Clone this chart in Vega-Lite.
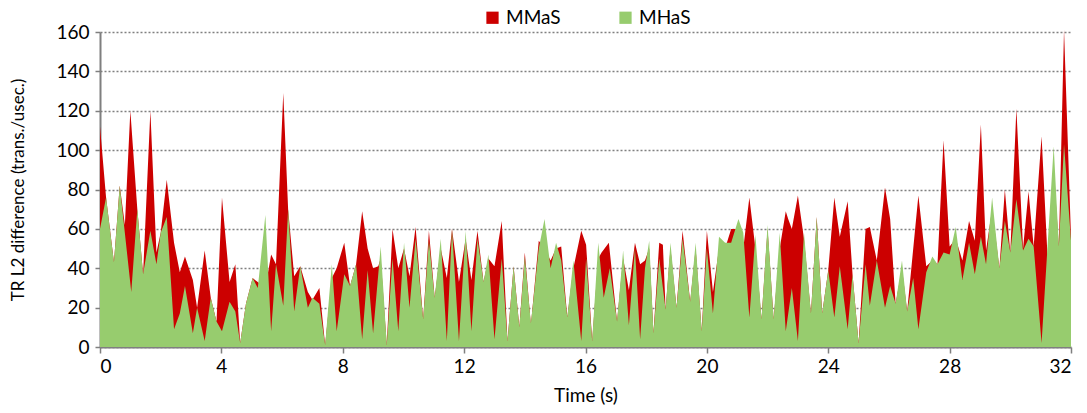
{
  "$schema": "https://vega.github.io/schema/vega-lite/v6.json",
  "width": 971,
  "height": 315,
  "autosize": {"type": "none"},
  "padding": {"left": 100, "top": 32, "right": 16, "bottom": 66},
  "background": "white",
  "config": {
    "font": "Lato",
    "view": {"stroke": null},
    "axis": {"labelFont": "Lato", "titleFont": "Lato", "labelColor": "#000", "titleColor": "#000", "titleFontWeight": "normal"}
  },
  "datasets": {
    "mmas": [
      {"t":0.0,"v":112},{"t":0.2,"v":76},{"t":0.46,"v":43},{"t":0.65,"v":82},{"t":0.82,"v":62},{"t":1.0,"v":120},{"t":1.23,"v":70},{"t":1.42,"v":37},{"t":1.66,"v":120},{"t":1.86,"v":48},{"t":2.0,"v":58},{"t":2.2,"v":85},{"t":2.44,"v":53},{"t":2.63,"v":38},{"t":2.8,"v":46},{"t":3.06,"v":34},{"t":3.2,"v":20},{"t":3.45,"v":49},{"t":3.65,"v":25},{"t":3.84,"v":13},{"t":4.02,"v":76},{"t":4.27,"v":33},{"t":4.46,"v":42},{"t":4.62,"v":2},{"t":4.81,"v":22},{"t":5.03,"v":35},{"t":5.2,"v":33},{"t":5.45,"v":30},{"t":5.64,"v":47},{"t":5.8,"v":42},{"t":6.04,"v":129},{"t":6.2,"v":70},{"t":6.4,"v":36},{"t":6.6,"v":41},{"t":6.85,"v":28},{"t":7.0,"v":24},{"t":7.23,"v":30},{"t":7.42,"v":1},{"t":7.64,"v":35},{"t":7.8,"v":40},{"t":8.05,"v":53},{"t":8.24,"v":31},{"t":8.44,"v":42},{"t":8.64,"v":69},{"t":8.82,"v":50},{"t":9.0,"v":40},{"t":9.17,"v":41},{"t":9.25,"v":45},{"t":9.45,"v":1},{"t":9.64,"v":60},{"t":9.83,"v":40},{"t":10.02,"v":50},{"t":10.2,"v":36},{"t":10.4,"v":61},{"t":10.65,"v":14},{"t":10.84,"v":59},{"t":11.03,"v":25},{"t":11.23,"v":50},{"t":11.43,"v":35},{"t":11.6,"v":60},{"t":11.83,"v":33},{"t":12.05,"v":55},{"t":12.24,"v":34},{"t":12.44,"v":59},{"t":12.64,"v":33},{"t":12.8,"v":45},{"t":13.0,"v":41},{"t":13.24,"v":64},{"t":13.43,"v":3},{"t":13.63,"v":41},{"t":13.82,"v":10},{"t":14.0,"v":48},{"t":14.2,"v":11},{"t":14.46,"v":54},{"t":14.65,"v":50},{"t":14.85,"v":44},{"t":15.03,"v":50},{"t":15.2,"v":51},{"t":15.4,"v":15},{"t":15.6,"v":40},{"t":15.86,"v":59},{"t":16.02,"v":52},{"t":16.22,"v":3},{"t":16.42,"v":45},{"t":16.53,"v":48},{"t":16.77,"v":53},{"t":17.04,"v":13},{"t":17.24,"v":45},{"t":17.43,"v":29},{"t":17.63,"v":53},{"t":17.8,"v":42},{"t":17.96,"v":44},{"t":18.1,"v":50},{"t":18.24,"v":7},{"t":18.43,"v":53},{"t":18.55,"v":52},{"t":18.64,"v":19},{"t":18.8,"v":50},{"t":19.0,"v":20},{"t":19.2,"v":59},{"t":19.45,"v":23},{"t":19.63,"v":50},{"t":19.83,"v":8},{"t":20.0,"v":59},{"t":20.2,"v":28},{"t":20.4,"v":50},{"t":20.6,"v":50},{"t":20.8,"v":60},{"t":21.04,"v":60},{"t":21.2,"v":50},{"t":21.4,"v":76},{"t":21.6,"v":50},{"t":21.8,"v":14},{"t":22.0,"v":60},{"t":22.2,"v":14},{"t":22.4,"v":50},{"t":22.6,"v":69},{"t":22.68,"v":65},{"t":22.8,"v":60},{"t":23.0,"v":77},{"t":23.2,"v":55},{"t":23.43,"v":17},{"t":23.62,"v":66},{"t":23.8,"v":17},{"t":24.0,"v":39},{"t":24.2,"v":76},{"t":24.38,"v":56},{"t":24.64,"v":74},{"t":24.8,"v":37},{"t":25.0,"v":2},{"t":25.23,"v":60},{"t":25.37,"v":61},{"t":25.6,"v":44},{"t":25.87,"v":81},{"t":26.04,"v":65},{"t":26.22,"v":22},{"t":26.43,"v":40},{"t":26.6,"v":18},{"t":26.97,"v":77},{"t":27.23,"v":41},{"t":27.43,"v":44},{"t":27.6,"v":42},{"t":27.8,"v":105},{"t":28.0,"v":51},{"t":28.2,"v":55},{"t":28.42,"v":44},{"t":28.64,"v":64},{"t":28.83,"v":54},{"t":29.03,"v":113},{"t":29.2,"v":49},{"t":29.4,"v":70},{"t":29.64,"v":40},{"t":29.82,"v":80},{"t":30.0,"v":48},{"t":30.2,"v":121},{"t":30.42,"v":50},{"t":30.6,"v":79},{"t":30.77,"v":51},{"t":31.03,"v":107},{"t":31.23,"v":45},{"t":31.43,"v":90},{"t":31.6,"v":51},{"t":31.77,"v":161},{"t":32.0,"v":56}
    ],
    "mhas": [
      {"t":0.0,"v":60},{"t":0.2,"v":76},{"t":0.46,"v":43},{"t":0.65,"v":82},{"t":1.03,"v":28},{"t":1.23,"v":70},{"t":1.42,"v":37},{"t":1.66,"v":59},{"t":1.86,"v":42},{"t":2.0,"v":58},{"t":2.2,"v":66},{"t":2.44,"v":9},{"t":2.63,"v":17},{"t":2.8,"v":31},{"t":3.06,"v":7},{"t":3.2,"v":20},{"t":3.45,"v":3},{"t":3.65,"v":25},{"t":3.84,"v":13},{"t":4.02,"v":8},{"t":4.27,"v":23},{"t":4.46,"v":18},{"t":4.62,"v":2},{"t":4.81,"v":22},{"t":5.03,"v":35},{"t":5.2,"v":30},{"t":5.45,"v":67},{"t":5.64,"v":8},{"t":5.8,"v":42},{"t":6.04,"v":21},{"t":6.2,"v":70},{"t":6.4,"v":18},{"t":6.6,"v":41},{"t":6.85,"v":20},{"t":7.0,"v":25},{"t":7.23,"v":22},{"t":7.42,"v":1},{"t":7.64,"v":42},{"t":7.8,"v":8},{"t":8.05,"v":37},{"t":8.24,"v":31},{"t":8.44,"v":42},{"t":8.64,"v":4},{"t":8.82,"v":39},{"t":9.0,"v":7},{"t":9.25,"v":51},{"t":9.45,"v":1},{"t":9.64,"v":45},{"t":9.83,"v":8},{"t":10.02,"v":53},{"t":10.2,"v":20},{"t":10.4,"v":55},{"t":10.65,"v":14},{"t":10.84,"v":54},{"t":11.03,"v":25},{"t":11.23,"v":55},{"t":11.43,"v":3},{"t":11.6,"v":60},{"t":11.83,"v":3},{"t":12.05,"v":59},{"t":12.24,"v":8},{"t":12.44,"v":55},{"t":12.64,"v":33},{"t":12.8,"v":47},{"t":13.0,"v":4},{"t":13.24,"v":45},{"t":13.43,"v":3},{"t":13.63,"v":41},{"t":13.82,"v":10},{"t":14.0,"v":46},{"t":14.2,"v":12},{"t":14.46,"v":50},{"t":14.65,"v":65},{"t":14.85,"v":40},{"t":15.03,"v":53},{"t":15.2,"v":44},{"t":15.4,"v":15},{"t":15.6,"v":44},{"t":15.86,"v":3},{"t":16.02,"v":45},{"t":16.22,"v":3},{"t":16.42,"v":53},{"t":16.6,"v":25},{"t":16.8,"v":40},{"t":17.04,"v":13},{"t":17.24,"v":49},{"t":17.43,"v":11},{"t":17.63,"v":50},{"t":17.8,"v":4},{"t":17.96,"v":40},{"t":18.1,"v":54},{"t":18.24,"v":7},{"t":18.43,"v":45},{"t":18.64,"v":19},{"t":18.8,"v":53},{"t":19.0,"v":20},{"t":19.2,"v":55},{"t":19.45,"v":23},{"t":19.63,"v":53},{"t":19.83,"v":8},{"t":20.0,"v":50},{"t":20.2,"v":17},{"t":20.4,"v":56},{"t":20.6,"v":53},{"t":20.8,"v":53},{"t":21.04,"v":65},{"t":21.2,"v":58},{"t":21.4,"v":15},{"t":21.6,"v":57},{"t":21.8,"v":14},{"t":22.0,"v":62},{"t":22.2,"v":14},{"t":22.4,"v":58},{"t":22.6,"v":8},{"t":22.8,"v":30},{"t":23.0,"v":3},{"t":23.2,"v":58},{"t":23.43,"v":17},{"t":23.62,"v":66},{"t":23.8,"v":17},{"t":24.0,"v":39},{"t":24.2,"v":15},{"t":24.38,"v":41},{"t":24.64,"v":9},{"t":24.8,"v":37},{"t":25.0,"v":2},{"t":25.23,"v":42},{"t":25.37,"v":21},{"t":25.6,"v":44},{"t":25.87,"v":20},{"t":26.04,"v":31},{"t":26.22,"v":22},{"t":26.43,"v":44},{"t":26.6,"v":18},{"t":26.8,"v":35},{"t":26.97,"v":9},{"t":27.23,"v":38},{"t":27.43,"v":46},{"t":27.6,"v":42},{"t":27.8,"v":48},{"t":28.0,"v":47},{"t":28.2,"v":61},{"t":28.42,"v":34},{"t":28.64,"v":53},{"t":28.83,"v":37},{"t":29.03,"v":56},{"t":29.2,"v":42},{"t":29.4,"v":76},{"t":29.64,"v":40},{"t":29.82,"v":64},{"t":30.0,"v":48},{"t":30.2,"v":75},{"t":30.42,"v":49},{"t":30.6,"v":55},{"t":30.77,"v":51},{"t":31.03,"v":2},{"t":31.43,"v":102},{"t":31.6,"v":51},{"t":31.77,"v":103},{"t":32.0,"v":54}
    ]
  },
  "encoding": {
    "x": {"field": "t", "type": "quantitative", "scale": {"domain": [0, 32], "nice": false},
      "axis": {"values": [0,4,8,12,16,20,24,28,32], "labelOverlap": false, "title": "Time (s)", "grid": false, "labelFontSize": 19, "titleFontSize": 19, "titlePadding": 10, "domainColor": "#7f7f7f", "domainWidth": 2, "tickColor": "#7f7f7f", "tickWidth": 1.5, "tickSize": 6, "labelPadding": 4}},
    "y": {"field": "v", "type": "quantitative", "stack": null, "scale": {"domain": [0, 160], "nice": false},
      "axis": {"values": [0,20,40,60,80,100,120,140,160], "labelOverlap": false, "title": "TR L2 difference (trans./usec.)", "grid": true, "gridDash": [2, 2], "gridColor": "#808080", "gridWidth": 1.5, "labelFontSize": 19, "titleFontSize": 17, "titlePadding": 28, "domainColor": "#7f7f7f", "domainWidth": 2, "tickColor": "#7f7f7f", "tickWidth": 1.5, "tickSize": 5, "labelPadding": 6}}
  },
  "layer": [
    {
      "data": {"name": "mmas"},
      "mark": {"type": "area", "interpolate": "linear"},
      "encoding": {
        "color": {"datum": "MMaS", "type": "nominal",
          "scale": {"domain": ["MMaS", "MHaS"], "range": ["#cc0000", "#97cc6e"]},
          "legend": {"title": null, "orient": "none", "legendX": 383, "legendY": -24, "direction": "horizontal", "symbolType": "square", "symbolSize": 150, "symbolStrokeWidth": 0, "labelFontSize": 19, "labelFont": "Lato", "labelColor": "#000", "columnPadding": 55, "labelOffset": 4}}
      }
    },
    {
      "data": {"name": "mhas"},
      "mark": {"type": "area", "interpolate": "linear"},
      "encoding": {
        "color": {"datum": "MHaS", "type": "nominal"}
      }
    }
  ]
}
